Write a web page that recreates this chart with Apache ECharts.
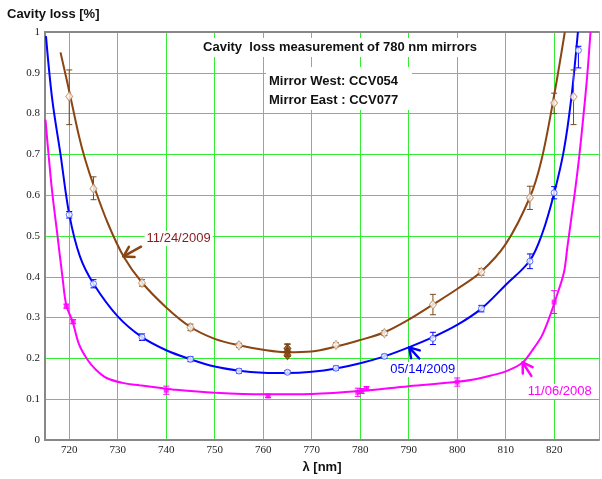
<!DOCTYPE html>
<html><head><meta charset="utf-8">
<script src="https://cdn.jsdelivr.net/npm/echarts@6/dist/echarts.min.js"></script>
<style>html,body{margin:0;padding:0;background:#fff;overflow:hidden}#c{width:602px;height:479px}</style>
</head><body><div id="c"></div>
<script>
// ---------- data ----------
// 11/24/2009 measurements (brown, open diamonds)
const brownX   = [720, 725, 735, 745, 755, 775, 785, 795, 805, 815, 820, 824];
const brownY   = [0.842, 0.616, 0.385, 0.276, 0.232, 0.233, 0.262, 0.332, 0.412, 0.594, 0.826, 0.841];
const brownLo  = [0.773, 0.589, 0.377, 0.268, 0.227, 0.228, 0.256, 0.307, 0.404, 0.565, 0.800, 0.773];
const brownHi  = [0.907, 0.645, 0.393, 0.284, 0.237, 0.238, 0.268, 0.357, 0.420, 0.622, 0.850, 0.907];
// cluster of repeated measurements at 765 nm (filled)
const brownClX  = [765, 765, 765];
const brownClY  = [0.224, 0.216, 0.208];
const brownClLo = [0.205, 0.205, 0.205];
const brownClHi = [0.235, 0.235, 0.235];
// brown fitted curve
const brownFitX = [718.2, 720, 722, 723.3, 725, 728, 731.2, 735, 740, 745, 750, 755, 760, 765, 770, 775, 780, 785, 790, 795, 800, 805, 810, 815, 817.4, 820, 822.2];
const brownFitY = [0.95, 0.855, 0.745, 0.687, 0.625, 0.53, 0.45, 0.386, 0.325, 0.277, 0.248, 0.232, 0.221, 0.215, 0.217, 0.229, 0.245, 0.264, 0.295, 0.332, 0.37, 0.413, 0.48, 0.595, 0.687, 0.845, 1.0];

// 05/14/2009 measurements (blue, open circles)
const blueX  = [720, 725, 735, 745, 755, 765, 775, 785, 795, 805, 815, 820, 825];
const blueY  = [0.552, 0.383, 0.252, 0.198, 0.169, 0.166, 0.176, 0.205, 0.249, 0.322, 0.438, 0.606, 0.955];
const blueLo = [0.544, 0.373, 0.244, 0.192, 0.164, 0.162, 0.171, 0.200, 0.234, 0.314, 0.420, 0.591, 0.912];
const blueHi = [0.560, 0.393, 0.260, 0.204, 0.174, 0.170, 0.181, 0.210, 0.264, 0.330, 0.456, 0.621, 0.965];
const blueFitX = [715.2, 716.5, 718.2, 720, 722.2, 725, 730, 735, 740, 745, 750, 755, 760, 765, 770, 775, 780, 785, 790, 795, 800, 805, 810, 815, 817.6, 820, 822, 823.5, 824.9];
const blueFitY = [0.99, 0.834, 0.70, 0.553, 0.45, 0.383, 0.303, 0.252, 0.22, 0.198, 0.18, 0.17, 0.165, 0.164, 0.167, 0.175, 0.188, 0.205, 0.227, 0.252, 0.282, 0.322, 0.38, 0.44, 0.508, 0.605, 0.71, 0.834, 1.0];

// 11/06/2008 measurements (magenta, filled squares)
const magX  = [719.4, 720.8, 740, 761, 779.5, 780.3, 781.3, 800, 820];
const magY  = [0.328, 0.29, 0.122, 0.108, 0.117, 0.12, 0.126, 0.142, 0.338];
const magLo = [0.323, 0.285, 0.112, 0.104, 0.107, 0.114, 0.121, 0.132, 0.310];
const magHi = [0.333, 0.295, 0.132, 0.112, 0.127, 0.126, 0.131, 0.152, 0.366];
const magFitX = [715.1, 715.7, 716.5, 717.5, 718.6, 719.4, 720.7, 722, 723.7, 725.5, 727.7, 731, 734.5, 738.5, 742, 750, 760, 770, 780, 790, 799.6, 803.7, 807, 810.4, 813.5, 815.5, 817.4, 819, 820.3, 822, 822.7, 823.5, 824.3, 825.1, 826, 826.8, 827.5];
const magFitY = [0.785, 0.704, 0.606, 0.508, 0.40, 0.33, 0.29, 0.235, 0.198, 0.172, 0.152, 0.14, 0.134, 0.128, 0.123, 0.116, 0.112, 0.113, 0.12, 0.132, 0.142, 0.149, 0.158, 0.17, 0.19, 0.22, 0.254, 0.30, 0.345, 0.41, 0.47, 0.54, 0.61, 0.687, 0.79, 0.89, 1.0];

// annotation anchors (data coordinates of arrow tips) and texts
const annoText = ['11/24/2009', '05/14/2009', '11/06/2008'];
const annoTipX = [731.2, 790.1, 813.5];
const annoTipY = [0.45, 0.227, 0.19];

// axis
const xMin = 715, xMax = 829.25;
const yMin = 0, yMax = 1, yStep = 0.1;
const xTitle = 'λ [nm]';
const yTitle = 'Cavity loss [%]';
const chartTitle = 'Cavity  loss measurement of 780 nm mirrors';
const mirrorLines = ['Mirror West: CCV054', 'Mirror East : CCV077'];

// ---------- build ----------
const zip2 = (a, b) => a.map((v, i) => [v, b[i]]);
const zip3 = (a, b, c) => a.map((v, i) => [v, b[i], c[i]]);

const BROWN = '#8b4513', BROWN_MK = '#c08a5c', BROWN_ERR = '#7a4a1a', BROWN_TXT = '#8b1a1a';
const BLUE = '#0000ff', MAG = '#ff00ff';
const GRIDC = '#33ec33', AXC = '#888888';
const SANS = '"Liberation Sans", Arial, sans-serif';
const SERIF = '"Liberation Serif", "Times New Roman", serif';

function errRender(color) {
  return function (params, api) {
    const x = api.value(0), lo = api.value(1), hi = api.value(2);
    const p1 = api.coord([x, hi]), p2 = api.coord([x, lo]);
    const w = 3;
    const st = { stroke: color, lineWidth: 1 };
    return { type: 'group', children: [
      { type: 'line', shape: { x1: p1[0], y1: p1[1], x2: p2[0], y2: p2[1] }, style: st },
      { type: 'line', shape: { x1: p1[0] - w, y1: p1[1], x2: p1[0] + w, y2: p1[1] }, style: st },
      { type: 'line', shape: { x1: p2[0] - w, y1: p2[1], x2: p2[0] + w, y2: p2[1] }, style: st }
    ]};
  };
}
function errSeries(xs, lo, hi, color) {
  return { type: 'custom', renderItem: errRender(color), data: zip3(xs, lo, hi),
    encode: { x: 0, y: [1, 2] }, z: 3, silent: true, clip: true };
}
function fitSeries(xs, ys, color) {
  return { type: 'line', data: zip2(xs, ys), smooth: 0.35, showSymbol: false, symbol: 'none',
    lineStyle: { color: color, width: 2 }, z: 2, silent: true, clip: true };
}

const chart = echarts.init(document.getElementById('c'), null, { renderer: 'canvas' });
const option = {
  animation: false,
  backgroundColor: '#fff',
  grid: { left: 45, right: -4, top: 32, bottom: 38, containLabel: false },
  xAxis: [{
    type: 'value', min: xMin, max: xMax, minInterval: 10, maxInterval: 10, splitNumber: 11,
    axisLine: { show: true, lineStyle: { color: AXC, width: 2 } },
    axisTick: { show: false },
    axisLabel: { margin: 5, color: '#222', fontFamily: SERIF, fontSize: 11,
      formatter: v => (Math.abs(v % 10) < 1e-6 ? String(v) : '') },
    splitLine: { show: true, lineStyle: { color: GRIDC, width: 1 } },
    name: xTitle, nameLocation: 'middle', nameGap: 21,
    nameTextStyle: { fontFamily: SANS, fontWeight: 'bold', fontSize: 13, color: '#111' }
  }, {
    type: 'value', position: 'top', min: xMin, max: xMax,
    axisLine: { show: true, lineStyle: { color: AXC, width: 2 } },
    axisTick: { show: false }, axisLabel: { show: false }, splitLine: { show: false }
  }],
  yAxis: {
    type: 'value', min: yMin, max: yMax, interval: yStep,
    axisLine: { show: true, lineStyle: { color: AXC, width: 2 } },
    axisTick: { show: false },
    axisLabel: { margin: 5, color: '#222', fontFamily: SERIF, fontSize: 11,
      formatter: v => String(Math.round(v * 10) / 10) },
    splitLine: { show: true, lineStyle: { color: GRIDC, width: 1 } }
  },
  series: [
    fitSeries(magFitX, magFitY, MAG),
    fitSeries(blueFitX, blueFitY, BLUE),
    fitSeries(brownFitX, brownFitY, BROWN),
    errSeries(magX, magLo, magHi, MAG),
    errSeries(blueX, blueLo, blueHi, BLUE),
    errSeries(brownX, brownLo, brownHi, BROWN_ERR),
    errSeries(brownClX, brownClLo, brownClHi, BROWN_ERR),
    { type: 'scatter', data: zip2(magX, magY), symbol: 'rect', symbolSize: 5,
      itemStyle: { color: MAG }, z: 4, silent: true },
    { type: 'scatter', data: zip2(blueX, blueY), symbol: 'circle', symbolSize: 6,
      itemStyle: { color: '#fff', borderColor: '#3050ff', borderWidth: 1 }, z: 4, silent: true },
    { type: 'scatter', data: zip2(brownX, brownY), symbol: 'diamond', symbolSize: [7, 9],
      itemStyle: { color: '#fff', borderColor: BROWN_MK, borderWidth: 1 }, z: 4, silent: true },
    { type: 'scatter', data: zip2(brownClX, brownClY), symbol: 'diamond', symbolSize: [7, 9],
      itemStyle: { color: '#8a4a10', borderColor: '#7a3e0a', borderWidth: 1 }, z: 4, silent: true }
  ]
};
chart.setOption(option);

// ---------- annotations ----------
const toPx = p => chart.convertToPixel({ xAxisIndex: 0, yAxisIndex: 0 }, p);
function arrow(tip, ang, len, color) {
  const r = a => a * Math.PI / 180;
  const pt = (a, l) => [tip[0] + Math.cos(r(a)) * l, tip[1] + Math.sin(r(a)) * l];
  const st = { stroke: color, lineWidth: 2.5, lineCap: 'round' };
  const tail = pt(ang, len), w1 = pt(ang - 32, 11), w2 = pt(ang + 32, 11);
  return [
    { type: 'line', shape: { x1: tip[0], y1: tip[1], x2: tail[0], y2: tail[1] }, style: st, z: 50 },
    { type: 'line', shape: { x1: tip[0], y1: tip[1], x2: w1[0], y2: w1[1] }, style: st, z: 50 },
    { type: 'line', shape: { x1: tip[0], y1: tip[1], x2: w2[0], y2: w2[1] }, style: st, z: 50 }
  ];
}
function label(x, y, text, color) {
  return { type: 'text', x: x, y: y, z: 60,
    style: { text: text, fill: color, font: 'normal 13px ' + SANS,
      align: 'left', verticalAlign: 'middle', backgroundColor: '#fff', padding: [1, 2] } };
}
const tips = annoTipX.map((x, i) => toPx([x, annoTipY[i]]));
const annoColors = [BROWN_TXT, BLUE, MAG];
const arrowColors = [BROWN, BLUE, MAG];
const arrowAng = [-29, 48, 57];
const arrowLen = [20, 15, 16];
const textOff = [[21, -18], [-21, 22], [3, 29]];
const els = [];
tips.forEach((t, i) => {
  els.push(...arrow(t, arrowAng[i], arrowLen[i], arrowColors[i]));
  els.push(label(t[0] + textOff[i][0], t[1] + textOff[i][1], annoText[i], annoColors[i]));
});
// title boxes
els.push({ type: 'rect', shape: { x: 201, y: 38, width: 278, height: 19 }, style: { fill: '#fff' }, z: 40 });
els.push({ type: 'text', x: 340, y: 47.5, z: 60, style: { text: chartTitle, fill: '#111',
  font: 'bold 13px ' + SANS, align: 'center', verticalAlign: 'middle' } });
els.push({ type: 'rect', shape: { x: 266, y: 67, width: 146, height: 43 }, style: { fill: '#fff' }, z: 40 });
mirrorLines.forEach((s, i) => els.push({ type: 'text', x: 269, y: 81 + i * 19.5, z: 60,
  style: { text: s, fill: '#111', font: 'bold 13px ' + SANS, align: 'left', verticalAlign: 'middle' } }));
// y axis title
els.push({ type: 'text', x: 7, y: 14, z: 60, style: { text: yTitle, fill: '#111',
  font: 'bold 13px ' + SANS, align: 'left', verticalAlign: 'middle' } });
chart.setOption({ graphic: { elements: els } });
</script>
</body></html>
